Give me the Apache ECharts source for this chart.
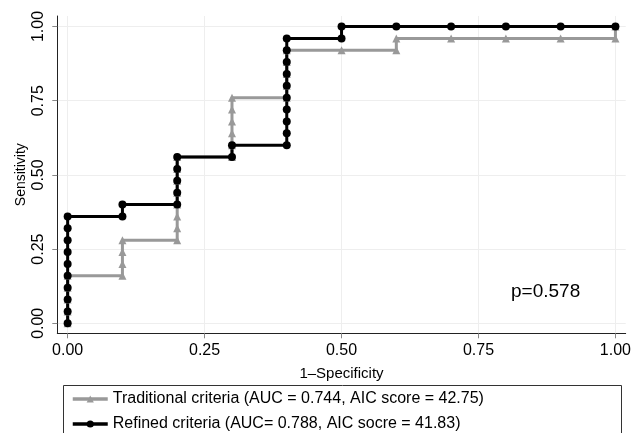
<!DOCTYPE html>
<html>
<head>
<meta charset="utf-8">
<script src="https://cdn.jsdelivr.net/npm/echarts@6/dist/echarts.min.js"></script>
<style>
html,body{margin:0;padding:0;background:#fff;}
#chart{width:634px;height:433px;}
</style>
</head>
<body>
<div id="chart"></div>
<script>
// Traditional criteria ROC (1-specificity, sensitivity)
var tradX = [0,0,0,0,0, 0.1,0.1,0.1,0.1, 0.2,0.2,0.2,0.2,0.2,0.2,0.2,0.2, 0.3,0.3,0.3,0.3,0.3,0.3, 0.4,0.4,0.4,0.4,0.4, 0.5, 0.6,0.6, 0.7, 0.8, 0.9, 1.0,1.0];
var tradY = [0,0.04,0.08,0.12,0.16, 0.16,0.20,0.24,0.28, 0.28,0.32,0.36,0.40,0.44,0.48,0.52,0.56, 0.56,0.60,0.64,0.68,0.72,0.76, 0.76,0.80,0.84,0.88,0.92, 0.92, 0.92,0.96, 0.96, 0.96, 0.96, 0.96,1.00];
// Refined criteria ROC
var refX = [0,0,0,0,0,0,0,0,0,0, 0.1,0.1, 0.2,0.2,0.2,0.2,0.2, 0.3,0.3, 0.4,0.4,0.4,0.4,0.4,0.4,0.4,0.4,0.4,0.4, 0.5,0.5, 0.6, 0.7, 0.8, 0.9, 1.0];
var refY = [0,0.04,0.08,0.12,0.16,0.20,0.24,0.28,0.32,0.36, 0.36,0.40, 0.40,0.44,0.48,0.52,0.56, 0.56,0.60, 0.60,0.64,0.68,0.72,0.76,0.80,0.84,0.88,0.92,0.96, 0.96,1.00, 1.00, 1.00, 1.00, 1.00, 1.00];
var tickVals = [0, 0.25, 0.5, 0.75, 1.0];
var seriesNames = ['Traditional criteria (AUC = 0.744, AIC score = 42.75)', 'Refined criteria (AUC= 0.788, AIC socre = 41.83)'];
var pText = 'p=0.578';

function pairs(xs, ys){ return xs.map(function(x,i){ return [x, ys[i]]; }); }
var FONT = '"Liberation Sans", Arial, Helvetica, sans-serif';

function legendFor(name, top){
  return {
    orient: 'vertical', left: 71, top: top, padding: 0,
    itemWidth: 35, itemHeight: 9,
    lineStyle: {width: 3.5},
    textStyle: {fontSize: 16, color: '#000', fontFamily: FONT},
    data: [name]
  };
}

var chart = echarts.init(document.getElementById('chart'), null, {renderer:'canvas'});
chart.setOption({
  animation: false,
  backgroundColor: '#fff',
  textStyle: {fontFamily: FONT},
  grid: {left: 57.3, right: 6, top: 16, bottom: 99.7, containLabel: false},
  xAxis: {
    type: 'value', min: -0.0189, max: 1.0187,
    name: '1\u2013Specificity', nameLocation: 'middle', nameGap: 33, nameMoveOverlap: false,
    nameTextStyle: {fontSize: 15, color: '#000', fontFamily: FONT},
    axisLine: {show: true, onZero: false, lineStyle: {color: '#222', width: 1}},
    axisTick: {show: true, customValues: tickVals, length: 5, lineStyle: {color: '#888'}},
    axisLabel: {customValues: tickVals, fontSize: 16, color: '#000', margin: 9, fontFamily: FONT,
      formatter: function(v){ return v.toFixed(2); }},
    splitLine: {show: true, lineStyle: {color: '#eeeeee', width: 1}}
  },
  yAxis: {
    type: 'value', min: -0.0337, max: 1.0354,
    name: 'Sensitivity', nameLocation: 'middle', nameGap: 29, nameRotate: 90, nameMoveOverlap: false,
    nameTextStyle: {fontSize: 14, color: '#000', fontFamily: FONT},
    axisLine: {show: true, onZero: false, lineStyle: {color: '#222', width: 1}},
    axisTick: {show: true, customValues: tickVals, length: 5, lineStyle: {color: '#888'}},
    axisLabel: {customValues: tickVals, fontSize: 16, color: '#000', margin: 11, rotate: 90, fontFamily: FONT,
      formatter: function(v){ return v.toFixed(2); }},
    splitLine: {show: true, lineStyle: {color: '#eeeeee', width: 1}}
  },
  legend: [legendFor(seriesNames[0], 391), legendFor(seriesNames[1], 416)],
  series: [
    {
      name: seriesNames[0], type: 'line', data: pairs(tradX, tradY),
      symbol: 'triangle', symbolSize: 8, showAllSymbol: true,
      lineStyle: {color: '#999999', width: 3},
      itemStyle: {color: '#999999'},
      emphasis: {disabled: true}
    },
    {
      name: seriesNames[1], type: 'line', data: pairs(refX, refY),
      symbol: 'circle', symbolSize: 8, showAllSymbol: true,
      lineStyle: {color: '#000000', width: 3},
      itemStyle: {color: '#000000'},
      emphasis: {disabled: true}
    }
  ],
  graphic: [
    {type: 'rect', shape: {x: 63.5, y: 385.5, width: 558, height: 70}, style: {fill: 'none', stroke: '#333', lineWidth: 1}, silent: true},
    {type: 'text', left: 511, top: 282, style: {text: pText, fontSize: 19, fill: '#000', fontFamily: FONT}}
  ]
});
</script>
</body>
</html>
